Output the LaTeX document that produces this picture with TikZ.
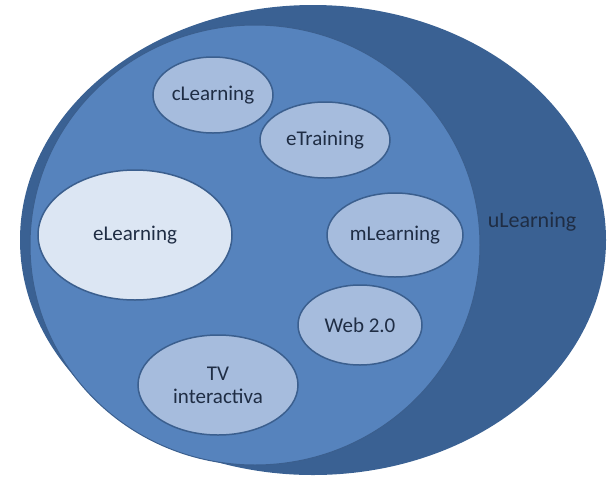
\documentclass[tikz,border=0pt]{standalone}
\usepackage{fontspec}
\setmainfont{Carlito}
\usetikzlibrary{shapes.geometric}
\definecolor{outerc}{HTML}{3A6193}
\definecolor{innerc}{HTML}{5683BD}
\definecolor{smallc}{HTML}{A6BCDD}
\definecolor{lightc}{HTML}{DCE6F3}
\definecolor{edgec}{HTML}{3B5F8E}
\definecolor{txt}{HTML}{1F2D44}
\begin{document}
\begin{tikzpicture}[x=1pt,y=-1pt,
  sm/.style={ellipse,draw=edgec,line width=1.5pt,fill=smallc,text=txt,font=\fontsize{21}{23}\selectfont,align=center,inner sep=0pt}]
\useasboundingbox (0,0) rectangle (613,480);
\fill[white] (0,0) rectangle (613,480);
\node[ellipse,fill=outerc,minimum width=586,minimum height=470,inner sep=0] (u) at (313,240) {};
\node[ellipse,fill=innerc,draw=edgec,line width=1pt,minimum width=450,minimum height=440,inner sep=0] (i) at (255,245) {};
\node[text=txt,font=\fontsize{22}{24}\selectfont] (ut) at (532,222) {uLearning};
\node[sm,minimum width=120,minimum height=76] (c) at (213,95) {cLearning};
\node[sm,minimum width=130,minimum height=76] (e) at (325,140) {eTraining};
\node[sm,fill=lightc,minimum width=194,minimum height=130] (el) at (135,235) {eLearning};
\node[sm,minimum width=136,minimum height=84] (m) at (395,235) {mLearning};
\node[sm,minimum width=124,minimum height=80] (w) at (360,325) {Web 2.0};
\node[sm,minimum width=160,minimum height=100] (tv) at (218,385) {TV\\interactiva};
\end{tikzpicture}
\end{document}
